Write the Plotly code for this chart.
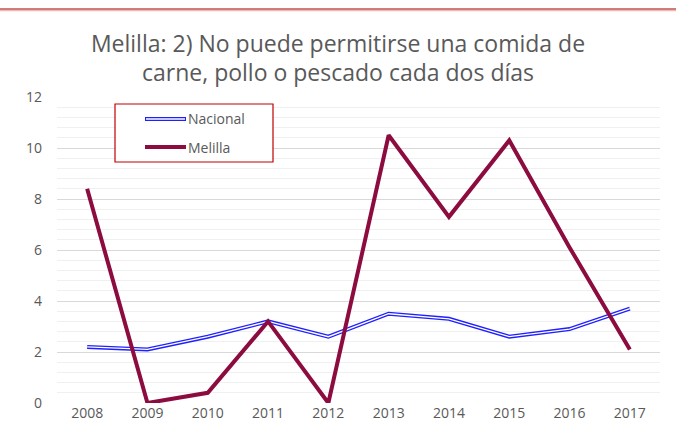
import plotly.graph_objects as go

years = ["2008", "2009", "2010", "2011", "2012", "2013", "2014", "2015", "2016", "2017"]
nacional = [2.2, 2.1, 2.6, 3.2, 2.6, 3.5, 3.3, 2.6, 2.9, 3.7]
melilla = [8.4, 0.0, 0.4, 3.2, 0.0, 10.5, 7.3, 10.3, 6.1, 2.1]
y_ticks = [0, 2, 4, 6, 8, 10, 12]

W, H = 676, 444
L, R, T, B = 57, 16, 97, 41
PW, PH = W - L - R, H - T - B

def px(x):
    return (x - L) / PW

def py(y):
    return (H - B - y) / PH

BLUE = "#2020ff"
MAROON = "#8c0c40"
GREY = "#595959"
FONT = "Open Sans"

fig = go.Figure()
fig.add_trace(go.Scatter(x=years, y=nacional, mode="lines", line=dict(color=BLUE, width=4),
                         showlegend=False, hoverinfo="skip"))
fig.add_trace(go.Scatter(x=years, y=nacional, mode="lines", line=dict(color="white", width=1.3),
                         name="Nacional", showlegend=False))
fig.add_trace(go.Scatter(x=years, y=melilla, mode="lines", line=dict(color=MAROON, width=4),
                         name="Melilla", showlegend=False))

shapes = [
    # top decorative border
    dict(type="line", xref="paper", yref="paper", x0=px(0), x1=px(W), y0=py(9), y1=py(9),
         line=dict(color="#c0504d", width=1.5)),
    dict(type="line", xref="paper", yref="paper", x0=px(0), x1=px(W), y0=py(10.7), y1=py(10.7),
         line=dict(color="#eaa8a6", width=1)),
    # legend box
    dict(type="rect", xref="paper", yref="paper", x0=px(115), x1=px(273), y0=py(162), y1=py(104),
         line=dict(color="#c00000", width=1.2), fillcolor="white", layer="above"),
    dict(type="line", xref="paper", yref="paper", x0=px(145), x1=px(186), y0=py(119), y1=py(119),
         line=dict(color=BLUE, width=4), layer="above"),
    dict(type="line", xref="paper", yref="paper", x0=px(146), x1=px(185), y0=py(119), y1=py(119),
         line=dict(color="white", width=1.3), layer="above"),
    dict(type="line", xref="paper", yref="paper", x0=px(145), x1=px(186), y0=py(147), y1=py(147),
         line=dict(color=MAROON, width=4), layer="above"),
]

annotations = [
    dict(text="Nacional", xref="paper", yref="paper", x=px(186), y=py(119), xanchor="left", yanchor="middle",
         showarrow=False, font=dict(family=FONT, size=14, color=GREY)),
    dict(text="Melilla", xref="paper", yref="paper", x=px(186), y=py(147), xanchor="left", yanchor="middle",
         showarrow=False, font=dict(family=FONT, size=14, color=GREY)),
]

fig.update_layout(
    width=W, height=H,
    margin=dict(l=L, r=R, t=T, b=B),
    paper_bgcolor="white", plot_bgcolor="white",
    title=dict(text="Melilla: 2) No puede permitirse una comida de<br>carne, pollo o pescado cada dos días",
               x=0.5, xanchor="center", y=1 - 51.5 / H, yanchor="middle",
               font=dict(family=FONT, size=23, color=GREY)),
    font=dict(family=FONT, color=GREY),
    shapes=shapes,
    annotations=annotations,
    xaxis=dict(type="category", range=[-0.5, 9.5], showgrid=False, showline=False, zeroline=False,
               ticks="", tickfont=dict(size=14, color=GREY)),
    yaxis=dict(range=[0, 12], tickvals=y_ticks, showgrid=True, gridcolor="#d9d9d9", gridwidth=1,
               zeroline=False, showline=False, ticks="", ticklabelstandoff=14,
               tickfont=dict(size=14, color=GREY),
               minor=dict(dtick=0.4, tick0=0, showgrid=True, gridcolor="#f0f0f0", gridwidth=1)),
)

fig.write_html("out.html", config={"displayModeBar": False},
               post_script="document.body.style.margin='0';document.body.style.overflow='hidden';")
